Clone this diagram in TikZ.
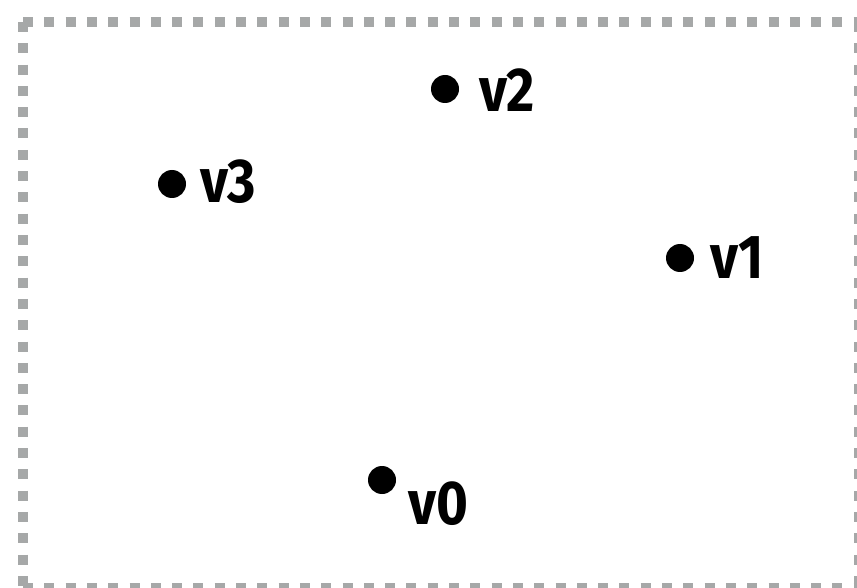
\documentclass[tikz,border=0pt]{standalone}
\usepackage{fontspec}
\newfontfamily\vertexfont{Fira Sans}[FakeStretch=0.88]
\usetikzlibrary{positioning}

\definecolor{framegray}{RGB}{166,168,168}

\tikzset{
  vertex/.style={circle, fill=black, inner sep=0pt, minimum size=28pt},
  vlabel/.style={anchor=base west, inner sep=0pt,
    font=\vertexfont\bfseries\fontsize{62}{62}\selectfont},
  frame/.style={draw=framegray, line width=10pt, dash pattern=on 10pt off 11.3pt}
}

\begin{document}
\begin{tikzpicture}[x=1pt, y=-1pt]
\useasboundingbox (0,0) rectangle (857,588);
\begin{scope}
\clip (0,0) rectangle (857,588);
% frame corners
\coordinate (TL) at (23,22);
\coordinate (TR) at (859,22);
\coordinate (BL) at (23,588);
\coordinate (BR) at (859,588);
\draw[frame] (TL) -- (TR);
\draw[frame] (TL) -- (BL);
\draw[frame] (BL) -- (BR);
\draw[frame] (TR) -- (BR);
\end{scope}

% the four points
\node[vertex] (p0) at (382,480) {};
\node[vertex] (p1) at (680,258) {};
\node[vertex] (p2) at (445,89) {};
\node[vertex] (p3) at (172,184) {};

\node[vlabel] (l0) at (408,524) {v0};
\node[vlabel] (l1) at (710,279) {v1};
\node[vlabel] (l2) at (479,112) {v2};
\node[vlabel] (l3) at (200,203) {v3};
\end{tikzpicture}
\end{document}
